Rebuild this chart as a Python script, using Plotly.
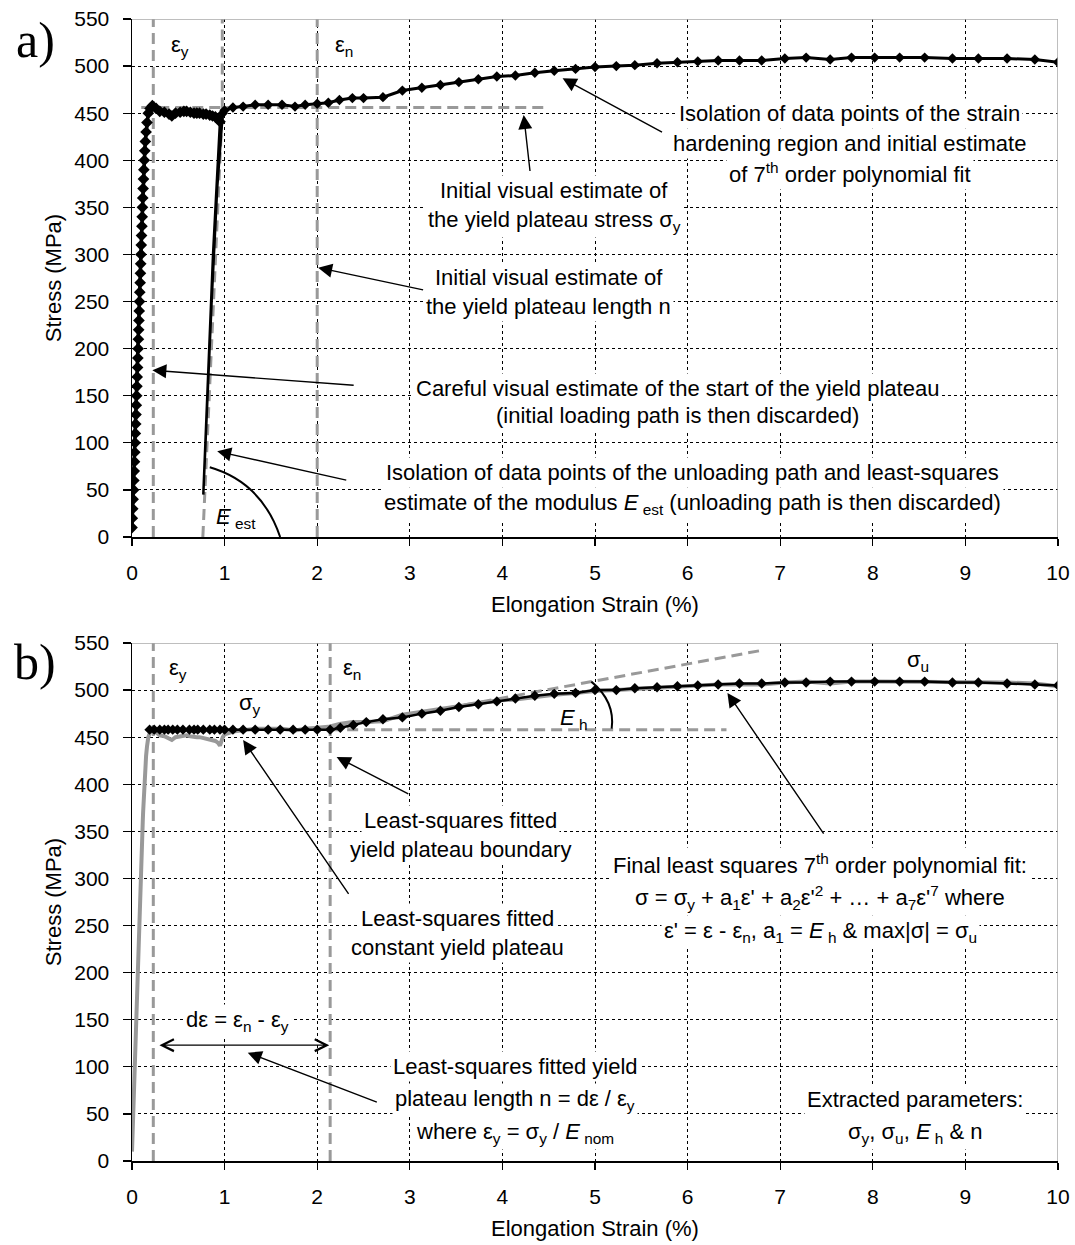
import plotly.graph_objects as go

FONT = "Liberation Sans, Arial, sans-serif"
SERIF = "Liberation Serif, Times New Roman, serif"

# ---------------- data ----------------
# Panel a: raw test record
a_load_strain = [0.0, 0.003, 0.008, 0.012, 0.017, 0.02, 0.024, 0.027, 0.03, 0.033, 0.036, 0.04,
                 0.043, 0.046, 0.05, 0.053, 0.056, 0.06, 0.063, 0.066, 0.069, 0.072, 0.075, 0.078,
                 0.081, 0.084, 0.088, 0.091, 0.094, 0.097, 0.1, 0.103, 0.107, 0.11, 0.113, 0.116,
                 0.12, 0.124, 0.128, 0.133, 0.138, 0.144, 0.152, 0.162, 0.176, 0.195]
a_load_stress = [10, 20, 30, 40, 50, 60, 70, 80, 90, 100, 110, 120, 130, 140, 150, 160, 170, 180,
                 190, 200, 210, 220, 230, 240, 250, 260, 270, 280, 290, 300, 310, 320, 330, 340,
                 350, 360, 370, 380, 390, 400, 410, 420, 430, 440, 450, 455]
a_plat_strain = [0.22, 0.26, 0.3, 0.35, 0.4, 0.43, 0.47, 0.52, 0.56, 0.59, 0.63, 0.67, 0.7, 0.73,
                 0.77, 0.8, 0.84, 0.87, 0.9, 0.93, 0.95]
a_plat_stress = [458, 455, 452, 451, 449, 447, 450, 451, 452, 452, 451, 450, 450, 450,
                 449, 449, 448, 447, 446, 444, 441]
a_unload_strain = [0.95, 0.93, 0.875, 0.82, 0.77, 0.8, 0.86, 0.92, 0.98]
a_unload_stress = [441, 400, 300, 167, 45, 120, 250, 370, 450]
a_hard_strain = [0.98, 1.0, 1.09, 1.2, 1.33, 1.47, 1.62, 1.76, 1.87, 2.0, 2.12, 2.24, 2.38, 2.5,
                 2.71, 2.92, 3.13, 3.33, 3.53, 3.74, 3.94, 4.14, 4.35, 4.56, 4.79, 5.0, 5.23,
                 5.43, 5.67, 5.89, 6.11, 6.33, 6.56, 6.8, 7.05, 7.28, 7.54, 7.77, 8.02, 8.29,
                 8.56, 8.86, 9.14, 9.45, 9.75, 10.0]
a_hard_stress = [450, 453, 456, 457, 459, 459, 459, 457, 459, 460, 461, 464, 466, 466,
                 467, 474, 477, 480, 483, 486, 489, 490, 493, 495, 497, 499, 500,
                 501, 503, 504, 505, 506, 506, 506, 508, 509, 507, 509, 509, 509,
                 509, 508, 508, 508, 507, 504]

# Panel b: fitted model (plateau + 7th order polynomial)
b_fit_strain = [0.19, 0.24, 0.3, 0.35, 0.39, 0.44, 0.49, 0.55, 0.62, 0.67, 0.71, 0.77, 0.84,
                0.89, 0.95, 1.0, 1.09, 1.2, 1.33, 1.47, 1.6, 1.74, 1.87, 2.0, 2.14,
                2.25, 2.39, 2.53, 2.71, 2.92, 3.13, 3.33, 3.53, 3.74, 3.94, 4.14, 4.35, 4.56,
                4.79, 5.0, 5.23, 5.43, 5.67, 5.89, 6.11, 6.33, 6.56, 6.8, 7.05, 7.28, 7.54,
                7.77, 8.02, 8.29, 8.56, 8.86, 9.14, 9.45, 9.75, 10.0]
b_fit_stress = [458] * 25 + [460, 463, 466, 469, 471, 475, 478, 482, 485, 488, 491, 494, 496,
                             497, 500, 500, 502, 503, 504, 505, 506, 507, 507, 508, 508, 509,
                             509, 509, 509, 509, 508, 508, 507, 506, 505]

# estimated parameters (reference lines)
a_eps_y, a_eps_n, a_sigma_y = 0.23, 2.0, 456
a_Eest_line_x = [0.765, 0.975, 0.975]
a_Eest_line_y = [0, 455, 550]
b_eps_y, b_eps_n, b_sigma_y = 0.23, 2.14, 458
b_Eh_end = (6.79, 542)

X_TICKS = list(range(0, 11))
Y_TICKS = list(range(0, 551, 50))

GRAY = "#999999"
TXT = 22

fig = go.Figure()

def curve(x, y, ref, color="black", width=3, markers=True, msize=8):
    fig.add_trace(go.Scatter(
        x=x, y=y, xaxis="x" + ref, yaxis="y" + ref,
        mode="lines+markers" if markers else "lines",
        line=dict(color=color, width=width),
        marker=dict(symbol="diamond", size=msize, color=color),
        showlegend=False, hoverinfo="skip"))

# ---- panel a curves
curve(a_load_strain + a_plat_strain, a_load_stress + a_plat_stress, "", width=3.5, msize=9)
curve(a_unload_strain, a_unload_stress, "", width=2.5, markers=False)
curve(a_hard_strain, a_hard_stress, "", msize=8)

# ---- panel b curves
curve(a_load_strain + a_plat_strain + a_hard_strain,
      a_load_stress + a_plat_stress + a_hard_stress, "2", color="#999999", width=4, markers=False)
curve(b_fit_strain, b_fit_stress, "2", width=2.5, msize=8)

shapes = []

def dline(x0, y0, x1, y1, ref):
    shapes.append(dict(type="line", x0=x0, y0=y0, x1=x1, y1=y1, xref="x" + ref, yref="y" + ref,
                       line=dict(color=GRAY, width=3, dash="11px,6px"), layer="between"))

# panel a dashed estimates
dline(a_eps_y, 0, a_eps_y, 550, "")
dline(a_eps_n, 0, a_eps_n, 550, "")
dline(0.1, a_sigma_y, 4.45, a_sigma_y, "")
for i in range(len(a_Eest_line_x) - 1):
    dline(a_Eest_line_x[i], a_Eest_line_y[i], a_Eest_line_x[i + 1], a_Eest_line_y[i + 1], "")
# panel b dashed estimates
dline(b_eps_y, 0, b_eps_y, 550, "2")
dline(b_eps_n, 0, b_eps_n, 550, "2")
dline(b_eps_n, b_sigma_y, 6.42, b_sigma_y, "2")
dline(b_eps_n, b_sigma_y, b_Eh_end[0], b_Eh_end[1], "2")

# angle arcs
shapes.append(dict(type="path", path="M 0.84,74 Q 1.4,58 1.6,0", xref="x", yref="y",
                   line=dict(color="black", width=2)))
shapes.append(dict(type="path", path="M 4.96,509 Q 5.22,488 5.18,459", xref="x2", yref="y2",
                   line=dict(color="black", width=2)))

# gray top/right frame
for ref in ["", "2"]:
    shapes.append(dict(type="line", x0=0, y0=550, x1=10, y1=550, xref="x" + ref, yref="y" + ref,
                       line=dict(color="#a8a8a8", width=1.5), layer="above"))
    shapes.append(dict(type="line", x0=10, y0=0, x1=10, y1=550, xref="x" + ref, yref="y" + ref,
                       line=dict(color="#a8a8a8", width=1.5), layer="above"))

anns = []
CLEAR = "rgba(0,0,0,0)"

def txt(x, y, s, ref, size=TXT, bg="white"):
    anns.append(dict(x=x, y=y, xref="x" + ref, yref="y" + ref, text=s, showarrow=False,
                     font=dict(size=size, color="black", family=FONT),
                     bgcolor=bg, borderpad=2, xanchor="center", yanchor="middle"))

def arrow(hx, hy, tx, ty, ref):
    anns.append(dict(x=hx, y=hy, ax=tx, ay=ty, xref="x" + ref, yref="y" + ref,
                     axref="x" + ref, ayref="y" + ref, text="", showarrow=True,
                     arrowhead=2, arrowsize=2.0, arrowwidth=1.4, arrowcolor="black", standoff=0))

# ---- panel a texts
txt(7.75, 450, "Isolation of data points of the strain", "")
txt(7.75, 418, "hardening region and initial estimate", "")
txt(7.75, 386, "of 7<sup>th</sup> order polynomial fit", "")
txt(4.56, 368, "Initial visual estimate of", "")
txt(4.56, 335, "the yield plateau stress σ<sub>y</sub>", "")
txt(4.50, 276, "Initial visual estimate of", "")
txt(4.50, 245, "the yield plateau length n", "")
txt(5.89, 158, "Careful visual estimate of the start of the yield plateau", "")
txt(5.89, 128.5, "(initial loading path is then discarded)", "")
txt(6.05, 68, "Isolation of data points of the unloading path and least-squares", "")
txt(6.05, 35, "estimate of the modulus <i>E</i><sub> est</sub> (unloading path is then discarded)", "")
txt(0.52, 521, "ε<sub>y</sub>", "", bg=CLEAR)
txt(2.29, 521, "ε<sub>n</sub>", "", bg=CLEAR)
txt(1.12, 20, "<i>E</i><sub> est</sub>", "", bg=CLEAR)

arrow(4.65, 487, 5.74, 429, "")
arrow(4.23, 448, 4.30, 387, "")
arrow(2.01, 286, 3.16, 262, "")
arrow(0.22, 177, 2.41, 161, "")
arrow(0.92, 91, 2.33, 60, "")

# ---- panel b texts
txt(0.50, 522, "ε<sub>y</sub>", "2", bg=CLEAR)
txt(2.38, 522, "ε<sub>n</sub>", "2", bg=CLEAR)
txt(1.27, 485, "σ<sub>y</sub>", "2", bg=CLEAR)
txt(8.49, 531, "σ<sub>u</sub>", "2", bg=CLEAR)
txt(4.77, 469, "<i>E</i><sub> h</sub>", "2", bg=CLEAR)
txt(3.55, 362, "Least-squares fitted", "2")
txt(3.55, 331, "yield plateau boundary", "2")
txt(3.52, 258, "Least-squares fitted", "2")
txt(3.52, 227, "constant yield plateau", "2")
txt(7.43, 315, "Final least squares 7<sup>th</sup> order polynomial fit:", "2")
txt(7.43, 280, "σ = σ<sub>y</sub> + a<sub>1</sub>ε' + a<sub>2</sub>ε'<sup>2</sup> + … + a<sub>7</sub>ε'<sup>7</sup> where", "2")
txt(7.43, 243, "ε' = ε - ε<sub>n</sub>, a<sub>1</sub> = <i>E</i><sub> h</sub> & max|σ| = σ<sub>u</sub>", "2")
txt(4.14, 100, "Least-squares fitted yield", "2")
txt(4.14, 65, "plateau length n = dε / ε<sub>y</sub>", "2")
txt(4.14, 30, "where ε<sub>y</sub> = σ<sub>y</sub> / <i>E</i><sub> nom</sub>", "2")
txt(8.46, 65, "Extracted parameters:", "2")
txt(8.46, 30, "σ<sub>y</sub>, σ<sub>u</sub>, <i>E</i><sub> h</sub> & n", "2")
txt(1.14, 149, "dε = ε<sub>n</sub> - ε<sub>y</sub>", "2")

arrow(6.43, 497, 7.48, 346, "2")
arrow(2.21, 429, 3.00, 389, "2")
arrow(1.20, 447, 2.35, 282, "2")
arrow(1.25, 115, 2.66, 62, "2")
# double-headed span arrow dε
anns.append(dict(x=b_eps_n - 0.01, y=123, ax=b_eps_y + 0.05, ay=123, xref="x2", yref="y2",
                 axref="x2", ayref="y2", text="", showarrow=True, arrowside="end+start",
                 arrowhead=5, arrowsize=1.8, arrowwidth=1.3, arrowcolor="black", standoff=0,
                 startarrowhead=5, startarrowsize=1.8, startstandoff=0))

W, H = 1075, 1245
ML, MR, MT, MB = 132, 17, 19, 84
H_PLOT = H - MT - MB
W_PLOT = W - ML - MR

def paper_x(px):
    return (px - ML) / W_PLOT

def paper_y(py):
    return (H - MB - py) / H_PLOT

anns.append(dict(x=paper_x(35), y=paper_y(40), xref="paper", yref="paper",
                 text="a)", showarrow=False, font=dict(size=50, family=SERIF, color="black"),
                 xanchor="center", yanchor="middle"))
anns.append(dict(x=paper_x(35), y=paper_y(662), xref="paper", yref="paper",
                 text="b)", showarrow=False, font=dict(size=50, family=SERIF, color="black"),
                 xanchor="center", yanchor="middle"))

def xax(anchor):
    return dict(range=[0, 10], tickvals=X_TICKS, anchor=anchor, domain=[0, 1], automargin=False,
                showline=True, linecolor="black", linewidth=1.5, ticks="outside", ticklen=7,
                tickcolor="black", tickwidth=1.2, showgrid=True, gridcolor="black",
                griddash="3px,3px", gridwidth=1, zeroline=False, ticklabelstandoff=9,
                ticklabeloverflow="allow",
                tickfont=dict(size=21, family=FONT, color="black"),
                title=dict(text="Elongation Strain (%)", font=dict(size=22, family=FONT, color="black"),
                           standoff=14))

def yax(anchor, dom):
    return dict(range=[0, 550], tickvals=Y_TICKS, anchor=anchor, domain=dom, automargin=False,
                showline=True, linecolor="black", linewidth=1.5, ticks="outside", ticklen=8,
                tickcolor="black", tickwidth=1.2, showgrid=True, gridcolor="black",
                griddash="3px,3px", gridwidth=1, zeroline=False, ticklabelstandoff=9,
                ticklabeloverflow="allow",
                tickfont=dict(size=21, family=FONT, color="black"),
                title=dict(text="Stress (MPa)", font=dict(size=22, family=FONT, color="black"),
                           standoff=6))

dom_a = [1 - 518 / H_PLOT, 1]
dom_b = [0, 518 / H_PLOT]

fig.update_layout(
    width=W, height=H,
    margin=dict(l=ML, r=MR, t=MT, b=MB, autoexpand=False),
    paper_bgcolor="white", plot_bgcolor="white",
    xaxis=xax("y"), yaxis=yax("x", dom_a),
    xaxis2=xax("y2"), yaxis2=yax("x2", dom_b),
    shapes=shapes, annotations=anns,
    font=dict(family=FONT, color="black"),
)

fig.write_html("out.html",
               config={"displayModeBar": False, "staticPlot": True},
               post_script="document.body.style.margin='0';document.body.style.overflow='hidden';")
